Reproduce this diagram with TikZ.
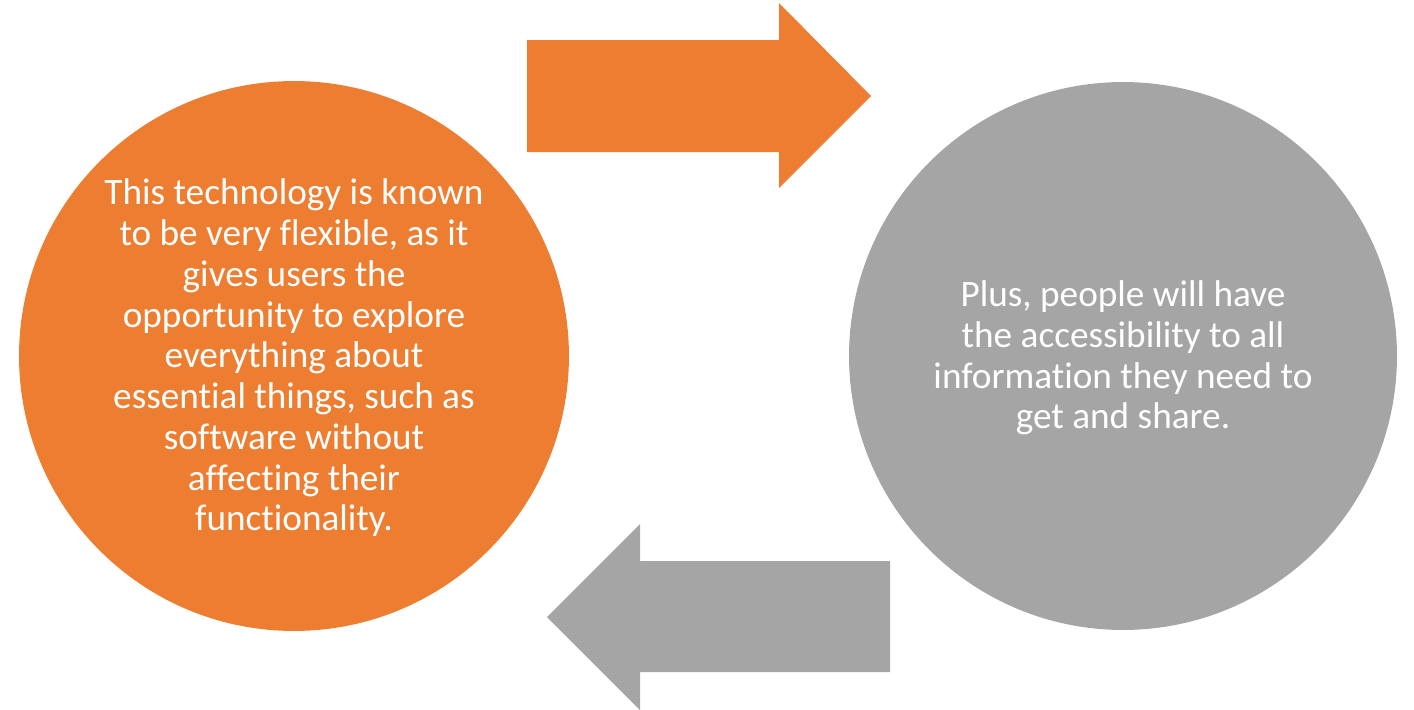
\documentclass[tikz,border=0pt]{standalone}
\usepackage{fontspec}
\setmainfont[Ligatures={NoCommon}]{Carlito}
\definecolor{orng}{HTML}{ED7D31}
\definecolor{gry}{HTML}{A5A5A5}
\begin{document}
\begin{tikzpicture}[x=0.02cm,y=-0.02cm,
  circ/.style={circle,minimum size=11cm,inner sep=0pt,draw=none},
  txt/.style={text=white,align=center,font=\fontsize{21.2}{23.2}\selectfont}]
\useasboundingbox (0,0) rectangle (1414,710);
\node[circ,fill=orng] (L) at (294,356) {};
\node[circ,fill=gry,minimum size=10.96cm] (R) at (1123,356) {};
\node[txt] (Lt) at (294,358) {This technology is known\\to be very flexible, as it\\gives users the\\opportunity to explore\\everything about\\essential things, such as\\software without\\affecting their\\functionality.};
\node[txt] (Rt) at (1123,358) {Plus, people will have\\the accessibility to all\\information they need to\\get and share.};
\fill[orng] (527,40) -- (779,40) -- (779,3) -- (871,96) -- (779,188) -- (779,152) -- (527,152) -- cycle;
\fill[gry] (890,561) -- (640,561) -- (640,524) -- (547,617) -- (640,710) -- (640,672) -- (890,672) -- cycle;
\end{tikzpicture}
\end{document}
